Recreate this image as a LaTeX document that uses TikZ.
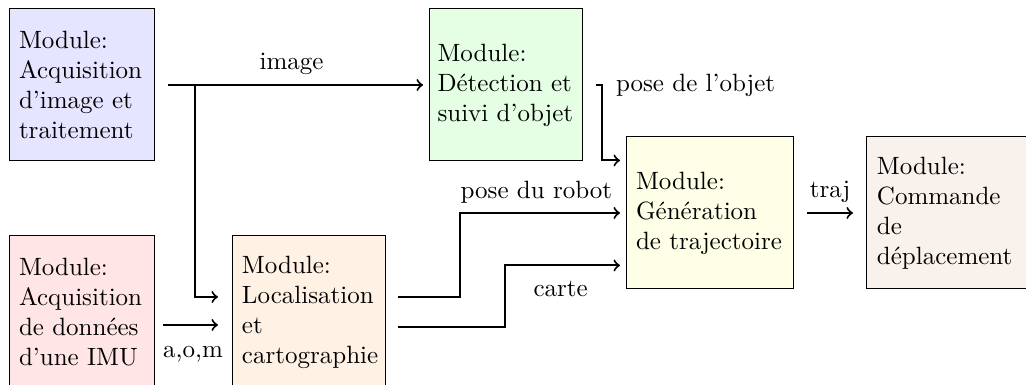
\documentclass[tikz,border=0pt]{standalone}
\begin{document}
\begin{tikzpicture}[inner sep=0pt,outer sep=0pt,thick,
module/.style={draw,rectangle,thin,fill=#1!10,align=left,inner xsep=4pt,minimum height=60.8pt}]

\useasboundingbox (0,0) rectangle (410.4pt,-154pt);

\draw (1.146,-1.195) node[module=blue,text width=50pt] (acq) {Module:\\Acquisition\\d'image et\\traitement};
\draw (1.146,-4.386) node[module=red,text width=50pt] (imu) {Module:\\Acquisition\\de données\\d'une IMU};
\draw (4.337,-4.386) node[module=orange,text width=53.2pt] (loc) {Module:\\Localisation\\et\\cartographie};
\draw (7.107,-1.195) node[module=green,inner xsep=3.4pt,text width=54.4pt] (det) {Module:\\Détection et\\suivi d'objet};
\draw (9.975,-2.994) node[module=yellow,text width=58.8pt] (gen) {Module:\\Génération\\de trajectoire};
\draw (13.383,-2.994) node[module=brown,text width=60pt] (cmd) {Module:\\Commande\\de\\déplacement};
\coordinate (split) at (2.741,-1.195);

\draw[->,shorten <=5.6pt,shorten >=2.4pt] (acq.0) -- node[pos=.5,above=4pt] {image} (det.180);
\draw[->,shorten >=5.6pt] (split) |- ([yshift=6pt]loc.180);
\draw[->,shorten <=3.6pt,shorten >=5.6pt] ([yshift=-5.2pt]imu.0) -- node[pos=.5,below=8.5pt] {a,o,m} ([yshift=-5.2pt]loc.180);
\draw[->,shorten >=2.4pt] ([xshift=5.6pt]det.0) -- ++(2.4pt,0) node[right=5.6pt] {pose de l'objet} |- ([yshift=21pt]gen.180);
\draw[->,shorten >=2.4pt] ([shift={(5.2pt,6pt)}]loc.0) -- ++(24.8pt,0) |- node[pos=.73,above=4pt] {pose du robot} (gen.180);
\draw[->,shorten >=2.4pt] ([shift={(5.2pt,-6pt)}]loc.0) -- ++(42.8pt,0) |- node[pos=.73,below=6.4pt] {carte} ([yshift=-21pt]gen.180);
\draw[->,shorten <=5.6pt,shorten >=5.6pt] (gen.0) -- node[pos=.5,above=4pt] {traj} (cmd.180);

\end{tikzpicture}
\end{document}
